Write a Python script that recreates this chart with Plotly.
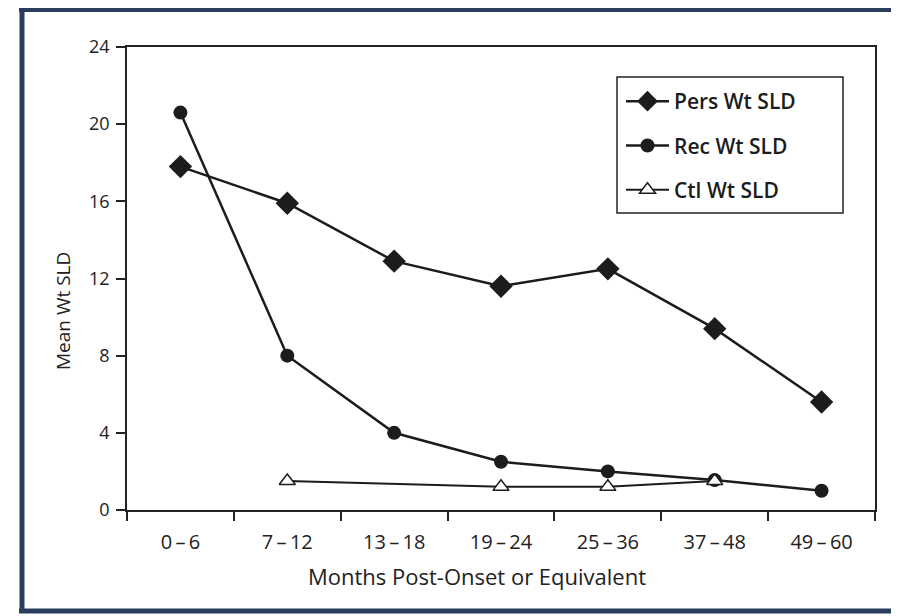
import plotly.graph_objects as go

categories = ["0\u2009\u2013\u20096", "7\u2009\u2013\u200912", "13\u2009\u2013\u200918", "19\u2009\u2013\u200924",
              "25\u2009\u2013\u200936", "37\u2009\u2013\u200948", "49\u2009\u2013\u200960"]
pers = [17.8, 15.9, 12.9, 11.6, 12.5, 9.4, 5.6]
rec = [20.6, 8.0, 4.0, 2.5, 2.0, 1.55, 1.0]
ctl = [None, 1.5, None, 1.2, 1.2, 1.5, None]
y_ticks = [0, 4, 8, 12, 16, 20, 24]
x_title = "Months Post-Onset or Equivalent"
y_title = "Mean Wt SLD"

FONT = "Open Sans"
INK = "#1c1c1c"
NAVY = "#2b3d5c"
O = 8                      # page body offset
Wf, Hf = 891, 608
ml, mr, mt, mb = 119, 24, 39, 106
pw = Wf - ml - mr
ph = Hf - mt - mb

def fx(x):
    return (x - O - ml) / pw

def fy(y):
    return (O + Hf - mb - y) / ph

fig = go.Figure()
fig.add_trace(go.Scatter(x=categories, y=pers, name="Pers Wt SLD", mode="lines+markers",
                         line=dict(color=INK, width=2.5), legendgroup="a",
                         marker=dict(symbol="diamond", size=18, color=INK)))
fig.add_trace(go.Scatter(x=categories, y=rec, name="Rec Wt SLD", mode="lines+markers",
                         line=dict(color=INK, width=2.5), legendgroup="b",
                         marker=dict(symbol="circle", size=14, color=INK)))
fig.add_trace(go.Scatter(x=categories, y=ctl, name="Ctl Wt SLD", mode="lines+markers",
                         connectgaps=True, legendgroup="c",
                         line=dict(color=INK, width=2),
                         marker=dict(symbol="triangle-up", size=14, color="white",
                                     line=dict(color=INK, width=1.5))))

fig.update_layout(
    width=Wf, height=Hf,
    margin=dict(l=ml, r=mr, t=mt, b=mb),
    paper_bgcolor="white", plot_bgcolor="white",
    font=dict(family=FONT, size=18, color="#222"),
    showlegend=True,
    legend=dict(x=fx(621), y=fy(81), xanchor="left", yanchor="top",
                borderwidth=0, bgcolor="rgba(0,0,0,0)",
                font=dict(size=21, color=INK, weight=600), tracegroupgap=14,
                traceorder="grouped", itemwidth=43),
    xaxis=dict(type="category", range=[-0.5, 6.5], tickson="boundaries",
               ticks="outside", ticklen=9, tickwidth=1.5, tickcolor="#222",
               ticklabelstandoff=13,
               showline=True, linecolor="#222", linewidth=1.5, mirror=True,
               showgrid=False, zeroline=False,
               tickfont=dict(size=20, weight=500)),
    yaxis=dict(range=[0, 24], tickvals=y_ticks, ticks="outside", ticklen=9,
               tickwidth=1.5, tickcolor="#222", ticklabelstandoff=3,
               showline=True, linecolor="#222", linewidth=1.5, mirror=True,
               showgrid=False, zeroline=False,
               tickfont=dict(size=18, weight=500)),
    annotations=[
        dict(text=x_title, xref="paper", yref="paper", x=fx(477), y=fy(576),
             xanchor="center", yanchor="middle", showarrow=False,
             font=dict(size=22, color="#222")),
        dict(text=y_title, xref="paper", yref="paper", x=fx(63), y=fy(311),
             xanchor="center", yanchor="middle", showarrow=False, textangle=-90,
             font=dict(size=19, color="#222")),
    ],
    shapes=[
        dict(type="rect", xref="paper", yref="paper", x0=fx(617), x1=fx(843), y0=fy(77), y1=fy(213),
             line=dict(color="#222", width=1.5), fillcolor="white", layer="below"),
        dict(type="line", xref="paper", yref="paper", x0=fx(19), x1=fx(899), y0=fy(9), y1=fy(9),
             line=dict(color=NAVY, width=6)),
        dict(type="line", xref="paper", yref="paper", x0=fx(22), x1=fx(22), y0=fy(7), y1=fy(613),
             line=dict(color=NAVY, width=5)),
        dict(type="line", xref="paper", yref="paper", x0=fx(19), x1=fx(899), y0=fy(611), y1=fy(611),
             line=dict(color=NAVY, width=5)),
    ],
)

fig.write_html("out.html")
